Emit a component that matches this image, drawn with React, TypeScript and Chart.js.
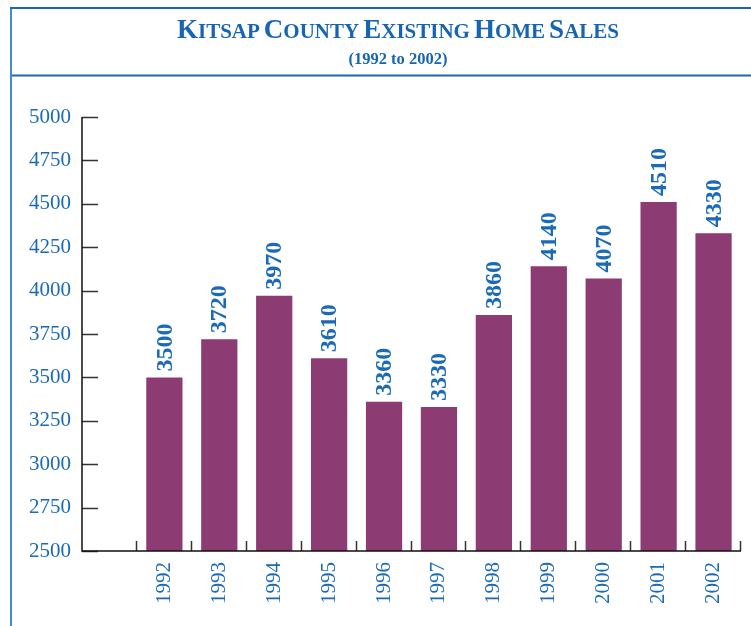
import React, { useEffect, useRef } from "react";
import { Chart, registerables } from "chart.js";

Chart.register(...registerables);

const years = ["", "1992", "1993", "1994", "1995", "1996", "1997", "1998", "1999", "2000", "2001", "2002"];
const sales = [null, 3500, 3720, 3970, 3610, 3360, 3330, 3860, 4140, 4070, 4510, 4330];
const yMin = 2500;
const yMax = 5000;
const yStep = 250;

const BLUE = "#1a6ab6";
const BAR = "#8c3c72";
const FONT = "'Liberation Serif', 'DejaVu Serif', serif";

const framePlugin = {
  id: "frame",
  beforeDraw(chart: any) {
    const ctx = chart.ctx;
    ctx.save();
    ctx.lineWidth = 2;
    ctx.strokeStyle = "#3f8bd6";
    ctx.beginPath();
    ctx.moveTo(11, 8);
    ctx.lineTo(11, 626);
    ctx.stroke();
    ctx.strokeStyle = "#1a66b3";
    ctx.beginPath();
    ctx.moveTo(10, 8);
    ctx.lineTo(751, 8);
    ctx.stroke();
    ctx.beginPath();
    ctx.moveTo(12, 75.5);
    ctx.lineTo(751, 75.5);
    ctx.stroke();
    ctx.restore();
  },
};

const axesPlugin = {
  id: "axesInward",
  afterDatasetsDraw(chart: any) {
    const ctx = chart.ctx;
    const y = chart.scales.y;
    const area = chart.chartArea;
    ctx.save();
    ctx.strokeStyle = "#333";
    ctx.lineWidth = 1.5;
    y.ticks.forEach((t: any) => {
      const py = Math.round(y.getPixelForValue(t.value)) + 0.5;
      ctx.beginPath();
      ctx.moveTo(area.left, py);
      ctx.lineTo(area.left + 16, py);
      ctx.stroke();
    });
    const n = years.length;
    const w = (area.right - area.left) / n;
    for (let i = 1; i <= n; i++) {
      const px = Math.round(area.left + i * w) - 0.5;
      ctx.beginPath();
      ctx.moveTo(px, area.bottom);
      ctx.lineTo(px, area.bottom - 10);
      ctx.stroke();
    }
    ctx.strokeStyle = "#111";
    ctx.lineWidth = 1.5;
    ctx.beginPath();
    ctx.moveTo(area.left, area.top);
    ctx.lineTo(area.left, area.bottom);
    ctx.lineTo(area.right, area.bottom);
    ctx.stroke();
    ctx.restore();
  },
};

const labelPlugin = {
  id: "barLabels",
  afterDatasetsDraw(chart: any) {
    const ctx = chart.ctx;
    const meta = chart.getDatasetMeta(0);
    ctx.save();
    ctx.fillStyle = BLUE;
    ctx.font = `bold 24px ${FONT}`;
    ctx.textAlign = "left";
    ctx.textBaseline = "middle";
    meta.data.forEach((bar: any, i: number) => {
      const v = sales[i];
      if (v == null) return;
      ctx.save();
      ctx.translate(bar.x, bar.y - 6);
      ctx.rotate(-Math.PI / 2);
      ctx.fillText(String(v), 0, 1);
      ctx.restore();
    });
    ctx.restore();
  },
};

function Title() {
  const big = { fontSize: 27 };
  const small = { fontSize: 21 };
  const word = (w: string) => (
    <>
      <span style={big}>{w[0]}</span>
      <span style={small}>{w.slice(1)}</span>
    </>
  );
  return (
    <div
      style={{
        position: "absolute",
        left: 98,
        width: 600,
        top: 16,
        textAlign: "center",
        color: "#1765b2",
        fontFamily: FONT,
        fontWeight: "bold",
        lineHeight: 1,
      }}
    >
      <div style={{ whiteSpace: "nowrap" }}>
        {word("KITSAP")} {word("COUNTY")} {word("EXISTING")} {word("HOME")} {word("SALES")}
      </div>
      <div style={{ fontSize: 16.5, marginTop: 8 }}>(1992 to 2002)</div>
    </div>
  );
}

export default function App() {
  const ref = useRef<HTMLCanvasElement | null>(null);
  useEffect(() => {
    if (!ref.current) return;
    const chart = new Chart(ref.current, {
      type: "bar",
      data: {
        labels: years,
        datasets: [
          {
            data: sales as any,
            backgroundColor: BAR,
            borderWidth: 0,
            barPercentage: 0.66,
            categoryPercentage: 1,
          },
        ],
      },
      options: {
        responsive: false,
        animation: false,
        devicePixelRatio: 1,
        layout: { padding: { left: 0, right: 10, top: 117, bottom: 0 } },
        plugins: { legend: { display: false }, tooltip: { enabled: false }, title: { display: false } },
        scales: {
          x: {
            grid: { display: false, drawTicks: false },
            border: { display: false },
            ticks: {
              color: BLUE,
              font: { family: FONT, size: 21 },
              minRotation: 90,
              maxRotation: 90,
              padding: 11,
              autoSkip: false,
            },
            afterFit: (s: any) => {
              s.height = 75;
            },
          },
          y: {
            min: yMin,
            max: yMax,
            grid: { display: false, drawTicks: false },
            border: { display: false },
            ticks: {
              stepSize: yStep,
              color: BLUE,
              font: { family: FONT, size: 21 },
              padding: 11,
              callback: (v: any) => String(v),
            },
            afterFit: (s: any) => {
              s.width = 82;
            },
          },
        },
      },
      plugins: [framePlugin, axesPlugin, labelPlugin],
    });
    return () => chart.destroy();
  }, []);
  return (
    <div style={{ position: "fixed", left: 0, top: 0, width: 751, height: 626, background: "#fff" }}>
      <canvas ref={ref} width={751} height={626} style={{ width: 751, height: 626 }} />
      <Title />
    </div>
  );
}
